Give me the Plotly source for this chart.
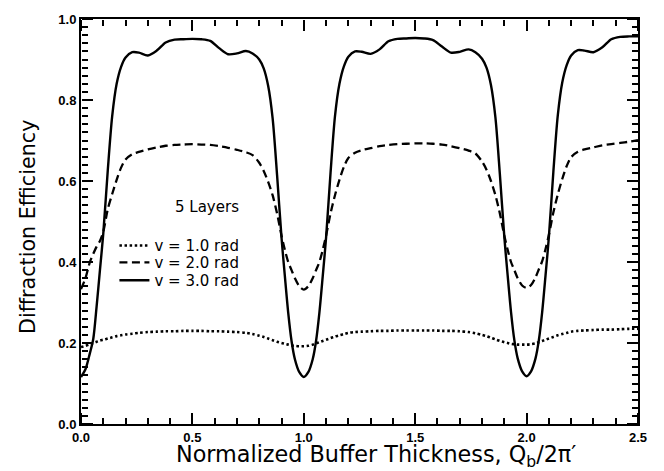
import plotly.graph_objects as go

# ---------------- data ----------------
thickness = [
    0.00, 0.02, 0.04, 0.055, 0.07, 0.085, 0.10, 0.12, 0.14, 0.16, 0.18, 0.20, 0.23, 0.26,
    0.30, 0.34, 0.38, 0.42, 0.46, 0.50, 0.54, 0.58, 0.62, 0.66, 0.70, 0.74, 0.77, 0.80,
    0.82, 0.84, 0.86, 0.88, 0.90, 0.915, 0.93, 0.945, 0.96, 0.98,
    1.00, 1.02, 1.04, 1.055, 1.07, 1.085, 1.10, 1.12, 1.14, 1.16, 1.18, 1.20, 1.23, 1.26,
    1.30, 1.34, 1.38, 1.42, 1.46, 1.50, 1.54, 1.58, 1.62, 1.66, 1.70, 1.74, 1.77, 1.80,
    1.82, 1.84, 1.86, 1.88, 1.90, 1.915, 1.93, 1.945, 1.96, 1.98,
    2.00, 2.02, 2.04, 2.055, 2.07, 2.085, 2.10, 2.12, 2.14, 2.16, 2.18, 2.20, 2.23, 2.26,
    2.30, 2.34, 2.38, 2.42, 2.46, 2.50,
]

eff_v1 = [
    0.190, 0.193, 0.197, 0.200, 0.203, 0.206, 0.208, 0.211, 0.214, 0.217, 0.219, 0.221, 0.223, 0.225,
    0.227, 0.228, 0.229, 0.229, 0.230, 0.230, 0.230, 0.229, 0.229, 0.228, 0.227, 0.225, 0.222, 0.218,
    0.215, 0.211, 0.207, 0.203, 0.200, 0.198, 0.196, 0.194, 0.193, 0.192,
    0.192, 0.193, 0.196, 0.199, 0.202, 0.205, 0.208, 0.212, 0.216, 0.219, 0.222, 0.225, 0.227, 0.228,
    0.229, 0.230, 0.230, 0.231, 0.231, 0.231, 0.231, 0.231, 0.230, 0.230, 0.229, 0.227, 0.224, 0.220,
    0.217, 0.213, 0.209, 0.205, 0.202, 0.200, 0.198, 0.197, 0.196, 0.196,
    0.196, 0.197, 0.199, 0.202, 0.205, 0.208, 0.211, 0.215, 0.219, 0.222, 0.225, 0.228, 0.230, 0.231,
    0.232, 0.233, 0.233, 0.234, 0.235, 0.235,
]

eff_v2 = [
    0.333, 0.360, 0.400, 0.420, 0.438, 0.452, 0.475, 0.530, 0.568, 0.603, 0.633, 0.653, 0.666, 0.672,
    0.678, 0.683, 0.687, 0.689, 0.690, 0.691, 0.690, 0.689, 0.686, 0.682, 0.677, 0.671, 0.664, 0.645,
    0.625, 0.598, 0.565, 0.520, 0.465, 0.430, 0.400, 0.380, 0.360, 0.340,
    0.332, 0.340, 0.360, 0.380, 0.400, 0.430, 0.465, 0.520, 0.565, 0.603, 0.635, 0.657, 0.670, 0.676,
    0.681, 0.686, 0.689, 0.691, 0.692, 0.693, 0.693, 0.692, 0.690, 0.686, 0.681, 0.675, 0.668, 0.648,
    0.628, 0.600, 0.565, 0.520, 0.465, 0.430, 0.400, 0.380, 0.360, 0.342,
    0.336, 0.343, 0.362, 0.382, 0.402, 0.432, 0.467, 0.522, 0.567, 0.605, 0.637, 0.659, 0.672, 0.678,
    0.683, 0.688, 0.691, 0.694, 0.697, 0.701,
]

eff_v3 = [
    0.116, 0.135, 0.175, 0.210, 0.290, 0.380, 0.470, 0.625, 0.760, 0.840, 0.882, 0.905, 0.918, 0.917,
    0.910, 0.922, 0.942, 0.949, 0.950, 0.951, 0.950, 0.946, 0.928, 0.913, 0.915, 0.921, 0.915, 0.900,
    0.878, 0.835, 0.755, 0.615, 0.460, 0.365, 0.275, 0.205, 0.160, 0.128,
    0.116, 0.128, 0.160, 0.205, 0.275, 0.365, 0.460, 0.620, 0.760, 0.840, 0.883, 0.907, 0.920, 0.919,
    0.914, 0.925, 0.945, 0.951, 0.952, 0.953, 0.952, 0.948, 0.932, 0.917, 0.919, 0.925, 0.918, 0.902,
    0.880, 0.837, 0.757, 0.617, 0.462, 0.367, 0.277, 0.207, 0.162, 0.130,
    0.118, 0.130, 0.162, 0.207, 0.277, 0.367, 0.462, 0.622, 0.762, 0.843, 0.886, 0.910, 0.923, 0.922,
    0.918, 0.930, 0.950, 0.956, 0.957, 0.957,
]

series_names = ["v = 1.0 rad", "v = 2.0 rad", "v = 3.0 rad"]

# ---------------- figure ----------------
FONT = "DejaVu Sans, Verdana, sans-serif"
TICKFONT = "Liberation Sans, Arial, sans-serif"
X_RANGE = [0, 2.5]
Y_RANGE = [0, 1.0]
X_MAJOR, X_MINOR = 0.5, 0.1
Y_MAJOR, Y_MINOR = 0.2, 0.02

fig = go.Figure()
styles = [
    dict(dash="2.5px,2.6px", width=2.6, legend="legend"),
    dict(dash="8px,4.5px", width=2.3, legend="legend2"),
    dict(dash="solid", width=2.4, legend="legend3"),
]
for name, ys, st in zip(series_names, [eff_v1, eff_v2, eff_v3], styles):
    fig.add_trace(go.Scatter(
        x=thickness, y=ys, mode="lines", name=name, legend=st["legend"],
        line=dict(color="black", width=st["width"], dash=st["dash"], shape="spline", smoothing=0.8),
    ))

# empty traces so that the overlay tick axes are created and drawn
for k in range(2, 6):
    fig.add_trace(go.Scatter(x=[], y=[], xaxis=f"x{k}", yaxis=f"y{k}", showlegend=False, hoverinfo="skip"))

tickfont = dict(family=TICKFONT, size=13, color="black", weight="bold")
axis_common = dict(
    ticks="", showline=True, linewidth=2, linecolor="black", mirror=True,
    showgrid=False, zeroline=False, tickfont=tickfont, tickformat=".1f",
)
# overlay axes: "outside" ticks on an axis placed at the opposite edge point into the plot
ov = dict(ticks="outside", tickwidth=2, tickcolor="black", showline=False,
          showgrid=False, zeroline=False, showticklabels=False, anchor="free")

fig.update_layout(
    xaxis=dict(range=X_RANGE, tick0=0, dtick=X_MAJOR, **axis_common),
    yaxis=dict(range=Y_RANGE, tick0=0, dtick=Y_MAJOR, **axis_common),
    # major ticks: bottom edge (pointing up) and left edge (pointing right)
    xaxis2=dict(range=X_RANGE, tick0=0, dtick=X_MAJOR, ticklen=11, overlaying="x", side="top", position=0, **ov),
    yaxis2=dict(range=Y_RANGE, tick0=0, dtick=Y_MAJOR, ticklen=11, overlaying="y", side="right", position=0, **ov),
    # major ticks: top edge (pointing down) and right edge (pointing left)
    xaxis3=dict(range=X_RANGE, tick0=0, dtick=X_MAJOR, ticklen=11, overlaying="x", side="bottom", position=1, **ov),
    yaxis3=dict(range=Y_RANGE, tick0=0, dtick=Y_MAJOR, ticklen=11, overlaying="y", side="left", position=1, **ov),
    # minor ticks: bottom/left edges
    xaxis4=dict(range=X_RANGE, tick0=0, dtick=X_MINOR, ticklen=6, overlaying="x", side="top", position=0, **ov),
    yaxis4=dict(range=Y_RANGE, tick0=0, dtick=Y_MINOR, ticklen=6, overlaying="y", side="right", position=0, **ov),
    # minor ticks: top/right edges
    xaxis5=dict(range=X_RANGE, tick0=0, dtick=X_MINOR, ticklen=6, overlaying="x", side="bottom", position=1, **ov),
    yaxis5=dict(range=Y_RANGE, tick0=0, dtick=Y_MINOR, ticklen=6, overlaying="y", side="left", position=1, **ov),
)

# axis titles (placed as in the reference, which is offset from the plot centre)
fig.add_annotation(
    x=0.530, y=0, xref="paper", yref="paper", xanchor="center", yanchor="middle", yshift=-32,
    text="Normalized Buffer Thickness, Q<sub>b</sub>/2π′", showarrow=False,
    font=dict(family=FONT, size=22.3, color="black"),
)
fig.add_annotation(
    x=-0.0952, y=0.4866, xref="paper", yref="paper", xanchor="center", yanchor="middle",
    text="Diffraction Efficiency", textangle=-90, showarrow=False,
    font=dict(family=FONT, size=20.7, color="black"),
)

fig.add_annotation(
    x=0.565, y=0.535, xref="x", yref="y", text="5 Layers", showarrow=False,
    font=dict(family=FONT, size=15, color="black"),
)

legend_common = dict(
    x=0.06, xanchor="left", yanchor="middle", bgcolor="rgba(0,0,0,0)", borderwidth=0,
    font=dict(family=FONT, size=15, color="black"),
)
fig.update_layout(
    width=664, height=471,
    margin=dict(l=81, r=26, t=15, b=47),
    paper_bgcolor="white", plot_bgcolor="white",
    legend=dict(y=0.4401, **legend_common),
    legend2=dict(y=0.3985, **legend_common),
    legend3=dict(y=0.3545, **legend_common),
    showlegend=True,
)

fig.write_html("out.html")
